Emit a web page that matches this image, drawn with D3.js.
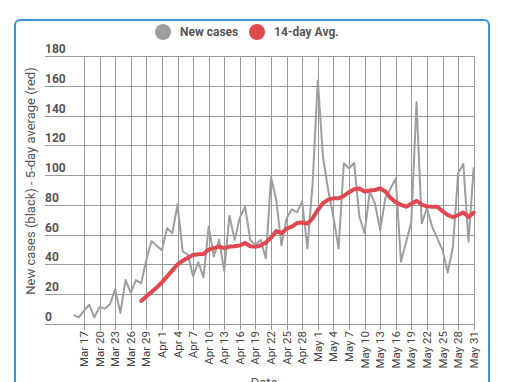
<!DOCTYPE html>
<html>
<head>
<meta charset="utf-8">
<script src="https://cdn.jsdelivr.net/npm/d3@7"></script>
<style>
  body { margin: 0; background: #fff; font-family: Roboto, "Noto Sans", sans-serif; }
  svg { display: block; }
</style>
</head>
<body>
<svg id="viz" width="510" height="382"></svg>
<script>
// daily new cases, Mar 15 .. May 31
const casesStart = "2020-03-15";
const newCases = [
  6, 4.5, 9, 13, 4.5, 11.5, 10.3, 13.2, 23.3, 7.6, 29.5, 21, 29.5, 27.3, 43, 55.7, 52.6,
  49.5, 64.3, 60.9, 80.4, 48.8, 46.5, 32, 41.5, 31.3, 65.4, 45.5, 56.6, 35.7, 72.6, 56.5,
  71.5, 78.8, 56.4, 53.3, 56.4, 44.1, 98.7, 83.5, 53, 71, 77, 75, 82.1, 50.8, 94.5,
  163.6, 112, 90, 72, 50.8, 108, 104.6, 108.2, 72, 61, 88.9, 81, 63, 84.5, 91, 97.8,
  41.8, 55, 68.7, 149, 67.6, 77.7, 65.4, 57.5, 49.7, 34.5, 51.9, 101.2, 107.5, 55.3, 105.2
];
// 14-day average, Mar 28 .. May 31
const avgStart = "2020-03-28";
const avgValues = [
  15.5, 18.5, 21.5, 24.5, 28, 32, 36, 40, 42.5, 44.5, 46.3, 46.8, 47, 50, 51, 52, 51,
  52, 52.2, 52.8, 54.4, 52.2, 51.8, 52.8, 54.8, 58, 62.4, 61, 64, 65.4, 67.8, 68.2, 67.4,
  71, 76.6, 81.2, 83.5, 84.4, 84.4, 86, 88.5, 90.5, 91, 89, 89.7, 90, 91.1, 89, 84.7,
  81.8, 80, 78.8, 80.7, 82.7, 80.2, 79, 78.8, 78.8, 75.8, 73.2, 71.8, 73.2, 74.9, 71.8, 74.8
];
const tickLabels = ["Mar 17", "Mar 20", "Mar 23", "Mar 26", "Mar 29", "Apr 1", "Apr 4", "Apr 7",
  "Apr 10", "Apr 13", "Apr 16", "Apr 19", "Apr 22", "Apr 25", "Apr 28", "May 1", "May 4",
  "May 7", "May 10", "May 13", "May 16", "May 19", "May 22", "May 25", "May 28", "May 31"];
const yTicks = [0, 20, 40, 60, 80, 100, 120, 140, 160, 180];
const seriesNames = ["New cases", "14-day Avg."];
const seriesColors = ["#9e9e9e", "#e0474f"];

const parse = d3.timeParse("%Y-%m-%d");
const fmtTick = d3.timeFormat("%b %-d");
const toPoints = (start, vals) => vals.map((v, i) => ({date: d3.timeDay.offset(parse(start), i), value: v}));
const casesData = toPoints(casesStart, newCases);
const avgData = toPoints(avgStart, avgValues);

const svg = d3.select("#viz");
const plotL = 45, plotR = 475, plotT = 56, plotB = 324;

// card
svg.append("rect")
  .attr("x", 15).attr("y", 20).attr("width", 474).attr("height", 400)
  .attr("rx", 5)
  .attr("fill", "#fff").attr("stroke", "#3b95d6").attr("stroke-width", 2);

const x = d3.scaleTime()
  .domain([new Date(2020, 2, 9, 12), new Date(2020, 4, 31, 6)])
  .range([plotL, plotR]);
const y = d3.scaleLinear().domain([0, 180]).range([plotB, plotT]);

// tick dates from labels
const tickDates = casesData.map(d => d.date).filter(d => tickLabels.includes(fmtTick(d)));

const grid = svg.append("g").attr("stroke", "#9a9a9a").attr("stroke-width", 1);
grid.selectAll(".h").data(yTicks).enter().append("line")
  .attr("x1", plotL).attr("x2", plotR)
  .attr("y1", d => Math.round(y(d)) + 0.5).attr("y2", d => Math.round(y(d)) + 0.5);
grid.selectAll(".v").data(tickDates).enter().append("line")
  .attr("x1", d => Math.round(x(d)) + 0.5).attr("x2", d => Math.round(x(d)) + 0.5)
  .attr("y1", plotT).attr("y2", plotB + 6);

// y labels sit above their grid line
svg.append("g").selectAll("text").data(yTicks).enter().append("text")
  .attr("x", plotL).attr("y", d => y(d) - 3)
  .attr("font-size", 12).attr("font-weight", "bold").attr("fill", "#555")
  .text(d => d);

// x labels rotated
svg.append("g").selectAll("text").data(tickDates).enter().append("text")
  .attr("transform", d => `translate(${x(d) + 4},${plotB + 7}) rotate(-90)`)
  .attr("text-anchor", "end")
  .attr("font-size", 11.5).attr("fill", "#444")
  .text(d => fmtTick(d));

const line = d3.line().x(d => x(d.date)).y(d => y(d.value));

svg.append("path").datum(casesData)
  .attr("d", line).attr("fill", "none")
  .attr("stroke", seriesColors[0]).attr("stroke-width", 2).attr("stroke-linejoin", "round");
svg.append("path").datum(avgData)
  .attr("d", line).attr("fill", "none")
  .attr("stroke", seriesColors[1]).attr("stroke-width", 4)
  .attr("stroke-linejoin", "round").attr("stroke-linecap", "round");

// axis titles
svg.append("text")
  .attr("transform", `translate(35,181) rotate(-90)`)
  .attr("text-anchor", "middle").attr("font-size", 13).attr("fill", "#555")
  .text("New cases (black) - 5-day average (red)");
svg.append("text")
  .attr("x", 264).attr("y", 387).attr("text-anchor", "middle")
  .attr("font-size", 13).attr("fill", "#555").text("Date");

// legend
const legendX = [163, 257];
const lg = svg.append("g").selectAll("g").data(seriesNames).enter().append("g")
  .attr("transform", (d, i) => `translate(${legendX[i]},32)`);
lg.append("circle").attr("r", 8).attr("fill", (d, i) => seriesColors[i]);
lg.append("text").attr("x", 17).attr("y", 4)
  .attr("font-size", 12).attr("font-weight", "bold").attr("fill", "#555")
  .text(d => d);
</script>
</body>
</html>
